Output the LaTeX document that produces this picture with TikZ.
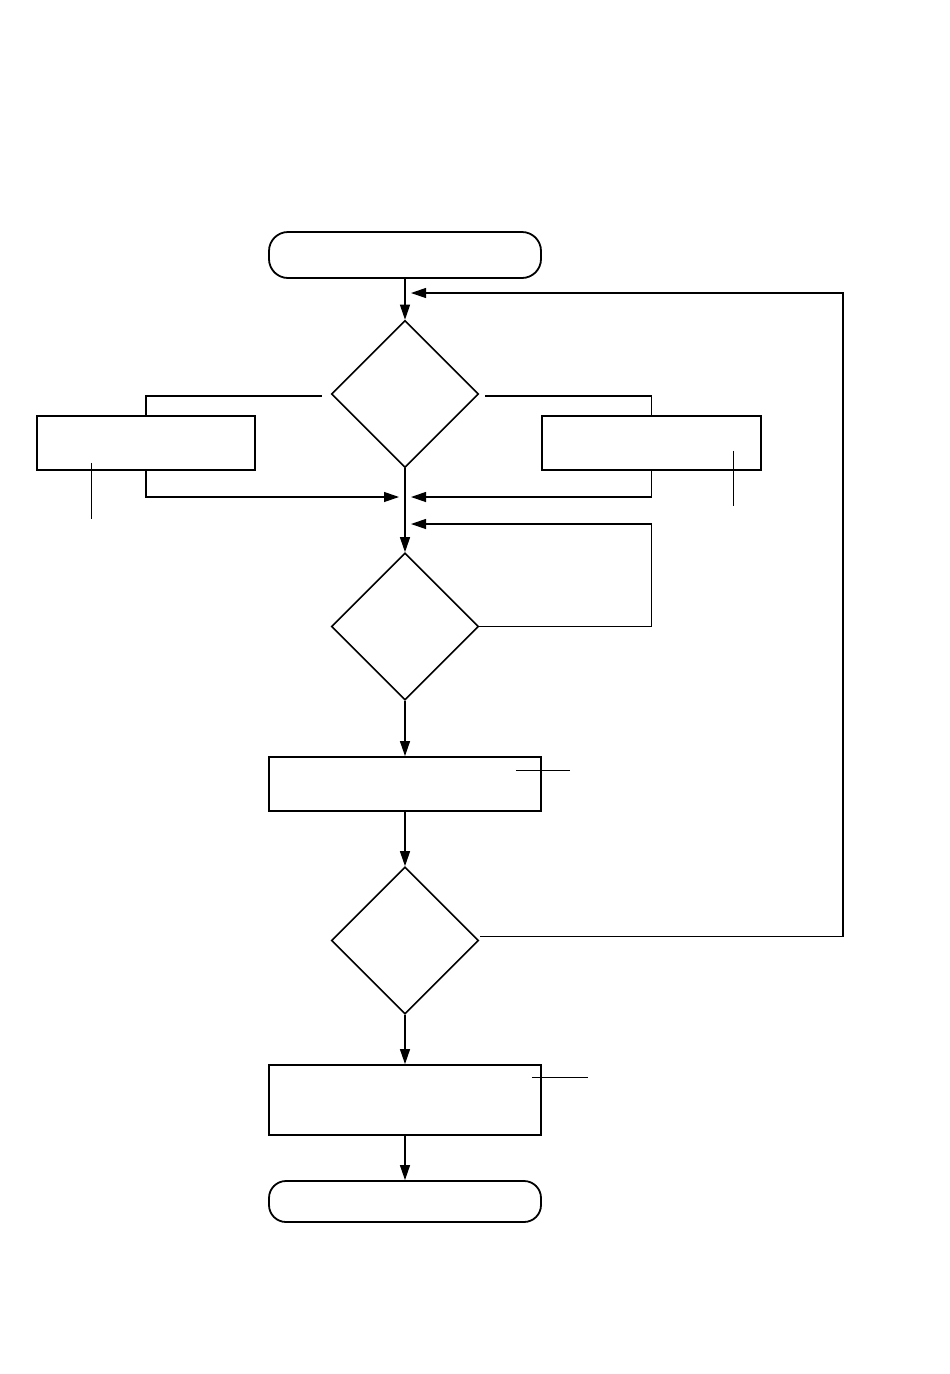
\documentclass[tikz,border=0pt]{standalone}
\usepackage{tikz}
\usetikzlibrary{shapes.geometric,arrows.meta,calc}

\begin{document}
\begin{tikzpicture}[x=1pt,y=-1pt,
    termbox/.style={draw,line width=1.8pt,rounded corners=19pt,minimum width=272pt,inner sep=0pt},
    procbox/.style={draw,line width=1.8pt,inner sep=0pt},
    decide/.style={draw,diamond,aspect=1,line width=1.6pt,minimum width=147pt,minimum height=147pt,inner sep=0pt},
    flow/.style={line width=1.2pt,-{Triangle[length=15pt,width=10pt]}},
    link/.style={line width=1.2pt},
    lead/.style={line width=0.9pt}]
    \useasboundingbox (0,0) rectangle (950,1374);
    \pgfmathsetmacro{\gap}{6}

    \node[termbox,minimum height=46pt] (start) at (405,255) {};
    \node[decide] (ask) at (405,394) {};
    \node[procbox,minimum width=218pt,minimum height=54pt] (left) at (146,443) {};
    \node[procbox,minimum width=219pt,minimum height=54pt] (right) at (651.5,443) {};
    \node[decide] (wait) at (405,626.5) {};
    \node[procbox,minimum width=272pt,minimum height=54pt] (work) at (405,784) {};
    \node[decide] (again) at (405,940.5) {};
    \node[procbox,minimum width=272pt,minimum height=70pt] (finish) at (405,1100) {};
    \node[termbox,minimum height=41pt,rounded corners=17pt] (stop) at (405,1201.5) {};

    \coordinate (join) at (405,497);
    \coordinate (loop) at (405,524);
    \coordinate (back) at (405,293);
    \coordinate (rail) at (843,293);

    \draw[flow] (start) -- (ask);
    \draw[flow] (ask) -- (wait);
    \draw[link] ($(ask.west)+(-9,2)$) -| (left.north);
    \draw[link] ($(ask.east)+(\gap,2)$) -| (right.north);
    \draw[flow] (left.south) |- ($(join)+(-\gap,0)$);
    \draw[flow] (right.south) |- ($(join)+(\gap,0)$);
    \draw[flow] (wait.east) -| (right.south |- loop) -- ($(loop)+(\gap,0)$);
    \draw[flow] (wait) -- (work);
    \draw[flow] (work) -- (again);
    \draw[flow] ($(again.east)+(1,-4)$) -| (rail) -- ($(back)+(\gap,0)$);
    \draw[flow] (again) -- (finish);
    \draw[flow] (finish) -- (stop);

    % lead lines
    \draw[lead] ($(left.south)+(-55,-8)$) --++ (0,56);
    \draw[lead] ($(right.south)+(81.5,-20)$) --++ (0,55);
    \draw[lead] ($(work.north east)+(-26,14)$) --++ (54,0);
    \draw[lead] ($(finish.north east)+(-10,13)$) --++ (56,0);

\end{tikzpicture}
\end{document}
